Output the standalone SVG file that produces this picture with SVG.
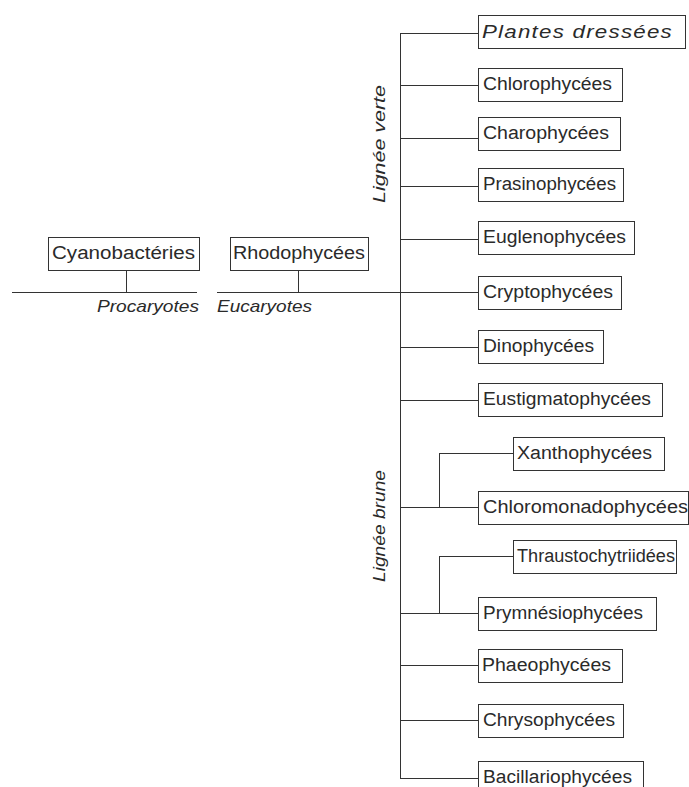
<svg xmlns="http://www.w3.org/2000/svg" width="689" height="787" viewBox="0 0 689 787">
<style>
rect.b{fill:#fff;stroke:#333;stroke-width:1}
text{font-family:"Liberation Sans",Arial,sans-serif;font-size:18px;fill:#2a2a2a}
text.i{font-style:italic;font-size:17px}
#connectors line{stroke:#333;stroke-width:1}
</style>
<rect width="689" height="787" fill="#fff"/>
<g id="connectors">
<line x1="12" y1="292.5" x2="197" y2="292.5"/>
<line x1="126.5" y1="271" x2="126.5" y2="292.5"/>
<line x1="217" y1="292.5" x2="478" y2="292.5"/>
<line x1="298.5" y1="271" x2="298.5" y2="292.5"/>
<line x1="400.5" y1="33" x2="400.5" y2="778"/>
<line x1="400" y1="33.5" x2="478" y2="33.5"/>
<line x1="400" y1="85.5" x2="478" y2="85.5"/>
<line x1="400" y1="138.5" x2="478" y2="138.5"/>
<line x1="400" y1="186.5" x2="478" y2="186.5"/>
<line x1="400" y1="239.5" x2="478" y2="239.5"/>
<line x1="400" y1="347.5" x2="478" y2="347.5"/>
<line x1="400" y1="400.5" x2="478" y2="400.5"/>
<line x1="400" y1="507.5" x2="478" y2="507.5"/>
<line x1="439.5" y1="453" x2="439.5" y2="507.5"/>
<line x1="439" y1="453.5" x2="513" y2="453.5"/>
<line x1="400" y1="613.5" x2="478" y2="613.5"/>
<line x1="439.5" y1="556" x2="439.5" y2="613.5"/>
<line x1="439" y1="556.5" x2="513" y2="556.5"/>
<line x1="400" y1="665.5" x2="478" y2="665.5"/>
<line x1="400" y1="720.5" x2="478" y2="720.5"/>
<line x1="400" y1="778.5" x2="478" y2="778.5"/>
</g>
<g id="labels">
<text class="i" x="97" y="312" textLength="102" lengthAdjust="spacingAndGlyphs">Procaryotes</text>
<text class="i" x="217" y="312" textLength="95" lengthAdjust="spacingAndGlyphs">Eucaryotes</text>
<text class="i" transform="translate(385,203) rotate(-90)" textLength="118" lengthAdjust="spacingAndGlyphs">Lignée verte</text>
<text class="i" transform="translate(385,582) rotate(-90)" textLength="112" lengthAdjust="spacingAndGlyphs">Lignée brune</text>
</g>
<g id="cyanobacteries"><rect class="b" x="48.5" y="237.5" width="151" height="33"/><text x="52" y="259" textLength="143" lengthAdjust="spacingAndGlyphs">Cyanobactéries</text></g>
<g id="rhodophycees"><rect class="b" x="230.5" y="237.5" width="138" height="33"/><text x="233" y="259" textLength="132" lengthAdjust="spacingAndGlyphs">Rhodophycées</text></g>
<g id="plantes"><rect class="b" x="478.5" y="15.5" width="207" height="33"/><text class="i" x="482" y="38" textLength="191" lengthAdjust="spacingAndGlyphs" style="font-size:18px;letter-spacing:1px">Plantes dressées</text></g>
<g id="chlorophycees"><rect class="b" x="478.5" y="68.5" width="144" height="33"/><text x="483" y="90" textLength="129" lengthAdjust="spacingAndGlyphs">Chlorophycées</text></g>
<g id="charophycees"><rect class="b" x="478.5" y="117.5" width="142" height="33"/><text x="483" y="139" textLength="126" lengthAdjust="spacingAndGlyphs">Charophycées</text></g>
<g id="prasinophycees"><rect class="b" x="478.5" y="168.5" width="145" height="33"/><text x="483" y="190" textLength="133" lengthAdjust="spacingAndGlyphs">Prasinophycées</text></g>
<g id="euglenophycees"><rect class="b" x="478.5" y="221.5" width="156" height="33"/><text x="483" y="243" textLength="143" lengthAdjust="spacingAndGlyphs">Euglenophycées</text></g>
<g id="cryptophycees"><rect class="b" x="478.5" y="276.5" width="143" height="33"/><text x="483" y="298" textLength="130" lengthAdjust="spacingAndGlyphs">Cryptophycées</text></g>
<g id="dinophycees"><rect class="b" x="478.5" y="330.5" width="125" height="33"/><text x="483" y="352" textLength="111" lengthAdjust="spacingAndGlyphs">Dinophycées</text></g>
<g id="eustigmatophycees"><rect class="b" x="478.5" y="383.5" width="184" height="33"/><text x="483" y="405" textLength="168" lengthAdjust="spacingAndGlyphs">Eustigmatophycées</text></g>
<g id="xanthophycees"><rect class="b" x="513.5" y="437.5" width="151" height="33"/><text x="517" y="459" textLength="135" lengthAdjust="spacingAndGlyphs">Xanthophycées</text></g>
<g id="chloromonadophycees"><rect class="b" x="478.5" y="491.5" width="210" height="33"/><text x="483" y="513" textLength="205" lengthAdjust="spacingAndGlyphs">Chloromonadophycées</text></g>
<g id="thraustochytriidees"><rect class="b" x="513.5" y="540.5" width="163" height="33"/><text x="517" y="562" textLength="158" lengthAdjust="spacingAndGlyphs">Thraustochytriidées</text></g>
<g id="prymnesiophycees"><rect class="b" x="478.5" y="597.5" width="178" height="33"/><text x="483" y="619" textLength="160" lengthAdjust="spacingAndGlyphs">Prymnésiophycées</text></g>
<g id="phaeophycees"><rect class="b" x="478.5" y="649.5" width="144" height="33"/><text x="482" y="671" textLength="129" lengthAdjust="spacingAndGlyphs">Phaeophycées</text></g>
<g id="chrysophycees"><rect class="b" x="478.5" y="704.5" width="145" height="33"/><text x="483" y="726" textLength="132" lengthAdjust="spacingAndGlyphs">Chrysophycées</text></g>
<g id="bacillariophycees"><rect class="b" x="478.5" y="761.5" width="165" height="33"/><text x="483" y="783" textLength="149" lengthAdjust="spacingAndGlyphs">Bacillariophycées</text></g>
</svg>
